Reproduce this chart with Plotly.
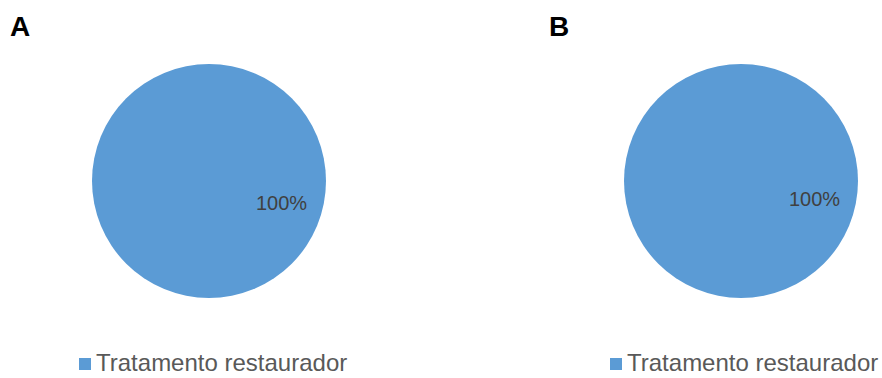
import plotly.graph_objects as go

# Data
panels = ["A", "B"]
categories = ["Tratamento restaurador"]
values_a = [100]
values_b = [100]
colors = ["#5B9BD5"]

W, H = 882, 378

def px_x(x):
    return x / W

def px_y(y):
    return 1 - y / H

# pie boxes in pixels (left, top, right, bottom)
boxes = [(92, 64, 326, 298), (624, 64, 858, 298)]
label_pos = [(281, 203), (814, 199)]
letter_x = [8, 547]
legend_pos = [(79, 364), (610, 364)]

fig = go.Figure()
for i, (vals, box) in enumerate(zip([values_a, values_b], boxes)):
    l, t, r, b = box
    fig.add_trace(go.Pie(
        labels=categories,
        values=vals,
        marker=dict(colors=colors, line=dict(width=0)),
        textinfo="none",
        hoverinfo="label+percent",
        sort=False,
        showlegend=False,
        domain=dict(x=[px_x(l), px_x(r)], y=[px_y(b), px_y(t)]),
    ))
    total = sum(vals)
    pct = round(vals[0] / total * 100)
    lx, ly = label_pos[i]
    fig.add_annotation(
        x=px_x(lx), y=px_y(ly), xref="paper", yref="paper",
        text=f"{pct}%", showarrow=False,
        font=dict(family="Liberation Sans, Arial", size=20, color="#404040"),
        xanchor="center", yanchor="middle",
    )
    # panel letter
    fig.add_annotation(
        x=px_x(letter_x[i]), y=px_y(26), xref="paper", yref="paper",
        text=f"<b>{panels[i]}</b>", showarrow=False,
        font=dict(family="Liberation Sans, Arial", size=28, color="#000000"),
        xanchor="left", yanchor="middle",
    )
    # legend entry
    gx, gy = legend_pos[i]
    fig.add_shape(
        type="rect", xref="paper", yref="paper",
        x0=px_x(gx), x1=px_x(gx + 12), y0=px_y(gy + 6), y1=px_y(gy - 6),
        fillcolor=colors[0], line=dict(width=0),
    )
    fig.add_annotation(
        x=px_x(gx + 15), y=0, xref="paper", yref="paper",
        text=categories[0], showarrow=False,
        font=dict(family="Liberation Sans, Arial", size=24, color="#595959"),
        xanchor="left", yanchor="bottom",
    )

fig.update_layout(
    width=W, height=H,
    margin=dict(l=0, r=0, t=0, b=0),
    paper_bgcolor="white",
    plot_bgcolor="white",
)

fig.write_html("out.html")
